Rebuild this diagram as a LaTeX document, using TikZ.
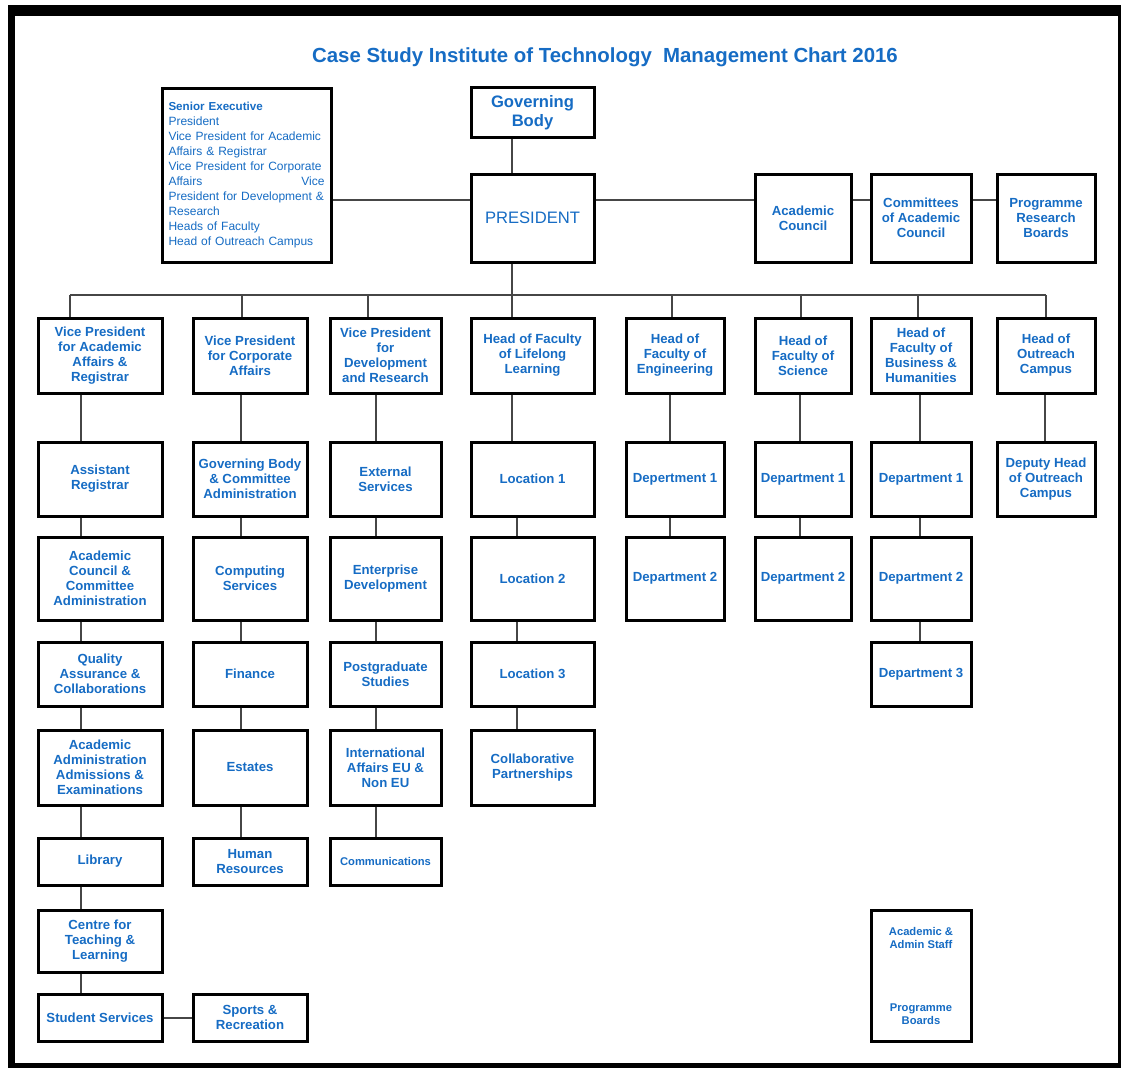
\documentclass[tikz,border=0pt]{standalone}
\usepackage{fontspec}
\setmainfont{Liberation Sans}

\definecolor{chartblue}{RGB}{22,108,196}
\definecolor{linkgrey}{RGB}{70,70,70}

\tikzset{
	unit/.style={draw=black, line width=1.5pt, fill=white, text=chartblue, align=center, inner sep=1pt, font=\bfseries\fontsize{6.6}{7.5}\selectfont},
	boxsize/.style 2 args={minimum width=#1, minimum height=#2},
	link/.style={draw=linkgrey, line width=1pt},
}

\begin{document}
\begin{tikzpicture}[x=0.5pt, y=-0.5pt]
		\useasboundingbox (0,0) rectangle (1123,1070);
		% Frame and title:
		\fill[black] (8,5) rectangle (1121,16);
		\fill[black] (8,5) rectangle (15,1068);
		\fill[black] (1118,5) rectangle (1121,1068);
		\fill[black] (8,1063) rectangle (1121,1068);
		\node[text=chartblue, font=\bfseries\fontsize{10.2}{12}\selectfont] (title) at (605, 57){Case Study Institute of Technology\ \ Management Chart 2016};

		% Top tier:
		\node[unit, boxsize={84.5pt}{86.5pt}, align=left, text width=78pt, font=\fontsize{6}{7.5}\selectfont] (senior) at (246.5, 175.5){{\bfseries\fontsize{5.8}{7.5}\selectfont Senior Executive}\\President\\Vice President for Academic\\Affairs \& Registrar\\Vice President for Corporate\\Affairs\hfill Vice\\President for Development \&\\Research\\Heads of Faculty\\Head of Outreach Campus};
		\node[unit, boxsize={61.5pt}{24.5pt}, font=\bfseries\fontsize{8.3}{9.5}\selectfont] (gov) at (532.5, 112.5){Governing\\Body};
		\node[unit, boxsize={61.5pt}{44pt}, font=\fontsize{8.3}{10}\selectfont] (pres) at (532.5, 218){PRESIDENT};
		\node[unit, boxsize={48pt}{44pt}] (ac) at (803, 218){Academic\\Council};
		\node[unit, boxsize={50pt}{44pt}] (cac) at (921, 218){Committees\\of Academic\\Council};
		\node[unit, boxsize={49pt}{44pt}] (prb) at (1046, 218){Programme\\Research\\Boards};

		% Row 1:
		\node[unit, boxsize={62pt}{37.5pt}] (vpaa) at (100, 355.5){Vice President\\for Academic\\Affairs \&\\Registrar};
		\node[unit, boxsize={57pt}{37.5pt}] (vpca) at (250, 355.5){Vice President\\for Corporate\\Affairs};
		\node[unit, boxsize={55.5pt}{37.5pt}] (vpdr) at (385.5, 355.5){Vice President\\for\\Development\\and Research};
		\node[unit, boxsize={61.5pt}{37.5pt}] (hfl) at (532.5, 355.5){Head of Faculty\\of Lifelong\\Learning};
		\node[unit, boxsize={49pt}{37.5pt}] (hfe) at (675, 355.5){Head of\\Faculty of\\Engineering};
		\node[unit, boxsize={48pt}{37.5pt}] (hfs) at (803, 355.5){Head of\\Faculty of\\Science};
		\node[unit, boxsize={50pt}{37.5pt}] (hfb) at (921, 355.5){Head of\\Faculty of\\Business \&\\Humanities};
		\node[unit, boxsize={49pt}{37.5pt}] (hoc) at (1046, 355.5){Head of\\Outreach\\Campus};

		% Row 2:
		\node[unit, boxsize={62pt}{37pt}] (asreg) at (100, 479){Assistant\\Registrar};
		\node[unit, boxsize={57pt}{37pt}] (gbca) at (250, 479){Governing Body\\\& Committee\\Administration};
		\node[unit, boxsize={55.5pt}{37pt}] (ext) at (385.5, 479){External\\Services};
		\node[unit, boxsize={61.5pt}{37pt}] (loc1) at (532.5, 479){Location 1};
		\node[unit, boxsize={49pt}{37pt}] (eng1) at (675, 479){Depertment 1};
		\node[unit, boxsize={48pt}{37pt}] (sci1) at (803, 479){Department 1};
		\node[unit, boxsize={50pt}{37pt}] (bus1) at (921, 479){Department 1};
		\node[unit, boxsize={49pt}{37pt}] (dhoc) at (1046, 479){Deputy Head\\of Outreach\\Campus};

		% Row 3:
		\node[unit, boxsize={62pt}{41.5pt}] (acca) at (100, 578.5){Academic\\Council \&\\Committee\\Administration};
		\node[unit, boxsize={57pt}{41.5pt}] (comp) at (250, 578.5){Computing\\Services};
		\node[unit, boxsize={55.5pt}{41.5pt}] (ent) at (385.5, 578.5){Enterprise\\Development};
		\node[unit, boxsize={61.5pt}{41.5pt}] (loc2) at (532.5, 578.5){Location 2};
		\node[unit, boxsize={49pt}{41.5pt}] (eng2) at (675, 578.5){Department 2};
		\node[unit, boxsize={48pt}{41.5pt}] (sci2) at (803, 578.5){Department 2};
		\node[unit, boxsize={50pt}{41.5pt}] (bus2) at (921, 578.5){Department 2};

		% Row 4:
		\node[unit, boxsize={62pt}{32pt}] (qual) at (100, 674){Quality\\Assurance \&\\Collaborations};
		\node[unit, boxsize={57pt}{32pt}] (fin) at (250, 674){Finance};
		\node[unit, boxsize={55.5pt}{32pt}] (pg) at (385.5, 674){Postgraduate\\Studies};
		\node[unit, boxsize={61.5pt}{32pt}] (loc3) at (532.5, 674){Location 3};
		\node[unit, boxsize={50pt}{32pt}] (bus3) at (921, 674){Department 3};

		% Row 5:
		\node[unit, boxsize={62pt}{37.5pt}] (aaae) at (100, 767.5){Academic\\Administration\\Admissions \&\\Examinations};
		\node[unit, boxsize={57pt}{37.5pt}] (est) at (250, 767.5){Estates};
		\node[unit, boxsize={55.5pt}{37.5pt}] (intl) at (385.5, 767.5){International\\Affairs EU \&\\Non EU};
		\node[unit, boxsize={61.5pt}{37.5pt}] (collab) at (532.5, 767.5){Collaborative\\Partnerships};

		% Rows 6 to 8:
		\node[unit, boxsize={62pt}{23.5pt}] (lib) at (100, 861.5){Library};
		\node[unit, boxsize={57pt}{23.5pt}] (hr) at (250, 861.5){Human\\Resources};
		\node[unit, boxsize={55.5pt}{23.5pt}, font=\bfseries\fontsize{5.6}{7}\selectfont] (comm) at (385.5, 861.5){Communications};
		\node[unit, boxsize={62pt}{31pt}] (ctl) at (100, 941){Centre for\\Teaching \&\\Learning};
		\node[unit, boxsize={62pt}{23.5pt}] (stud) at (100, 1017.5){Student Services};
		\node[unit, boxsize={57pt}{23.5pt}] (sport) at (250, 1017.5){Sports \&\\Recreation};
		\node[unit, boxsize={50pt}{65.5pt}, font=\bfseries\fontsize{5.6}{6.5}\selectfont] (key) at (921, 975.5){Academic \&\\Admin Staff\\[25pt]Programme\\Boards};

		% Wires:
		\coordinate (tier) at (0, 200);
		\coordinate (drop1) at (70, 295);
		\coordinate (drop2) at (242, 295);
		\coordinate (drop3) at (368, 295);
		\coordinate (drop4) at (512, 295);
		\coordinate (drop5) at (672, 295);
		\coordinate (drop6) at (801, 295);
		\coordinate (drop7) at (918, 295);
		\coordinate (drop8) at (1046, 295);
		\coordinate (spine1) at (81, 0);
		\coordinate (spine2) at (241, 0);
		\coordinate (spine3) at (376, 0);
		\coordinate (spine4) at (517, 0);
		\coordinate (spine5) at (670, 0);
		\coordinate (spine6) at (800, 0);
		\coordinate (spine7) at (920, 0);
		\coordinate (spine8) at (1045, 0);

		\draw[link] (gov.south -| drop4) -- (pres.north -| drop4);
		\draw[link] (senior.east |- tier) -- (pres.west |- tier);
		\draw[link] (pres.east |- tier) -- (ac.west |- tier);
		\draw[link] (ac.east |- tier) -- (cac.west |- tier);
		\draw[link] (cac.east |- tier) -- (prb.west |- tier);
		\draw[link] (pres.south -| drop4) -- (hfl.north -| drop4);
		\draw[link] (drop1) -- (drop8);
		\draw[link] (drop1) -- (vpaa.north -| drop1);
		\draw[link] (drop2) -- (vpca.north -| drop2);
		\draw[link] (drop3) -- (vpdr.north -| drop3);
		\draw[link] (drop5) -- (hfe.north -| drop5);
		\draw[link] (drop6) -- (hfs.north -| drop6);
		\draw[link] (drop7) -- (hfb.north -| drop7);
		\draw[link] (drop8) -- (hoc.north -| drop8);

		\draw[link] (vpaa.south -| spine1) -- (asreg.north -| spine1) (asreg.south -| spine1) -- (acca.north -| spine1) (acca.south -| spine1) -- (qual.north -| spine1) (qual.south -| spine1) -- (aaae.north -| spine1) (aaae.south -| spine1) -- (lib.north -| spine1) (lib.south -| spine1) -- (ctl.north -| spine1) (ctl.south -| spine1) -- (stud.north -| spine1);
		\draw[link] (stud.east) -- (sport.west);
		\draw[link] (vpca.south -| spine2) -- (gbca.north -| spine2) (gbca.south -| spine2) -- (comp.north -| spine2) (comp.south -| spine2) -- (fin.north -| spine2) (fin.south -| spine2) -- (est.north -| spine2) (est.south -| spine2) -- (hr.north -| spine2);
		\draw[link] (vpdr.south -| spine3) -- (ext.north -| spine3) (ext.south -| spine3) -- (ent.north -| spine3) (ent.south -| spine3) -- (pg.north -| spine3) (pg.south -| spine3) -- (intl.north -| spine3) (intl.south -| spine3) -- (comm.north -| spine3);
		\draw[link] (hfl.south -| drop4) -- (loc1.north -| drop4) (loc1.south -| spine4) -- (loc2.north -| spine4) (loc2.south -| spine4) -- (loc3.north -| spine4) (loc3.south -| spine4) -- (collab.north -| spine4);
		\draw[link] (hfe.south -| spine5) -- (eng1.north -| spine5) (eng1.south -| spine5) -- (eng2.north -| spine5);
		\draw[link] (hfs.south -| spine6) -- (sci1.north -| spine6) (sci1.south -| spine6) -- (sci2.north -| spine6);
		\draw[link] (hfb.south -| spine7) -- (bus1.north -| spine7) (bus1.south -| spine7) -- (bus2.north -| spine7) (bus2.south -| spine7) -- (bus3.north -| spine7);
		\draw[link] (hoc.south -| spine8) -- (dhoc.north -| spine8);
	\end{tikzpicture}
\end{document}
